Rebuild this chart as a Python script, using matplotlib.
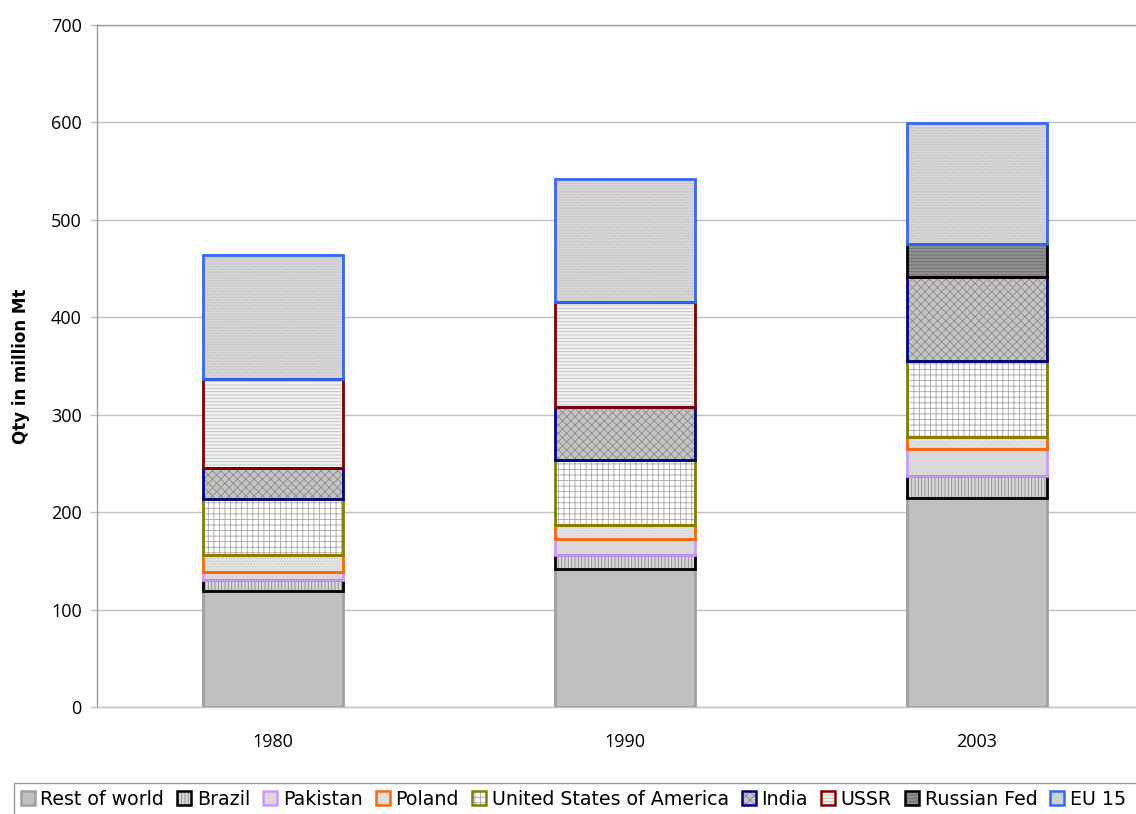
import matplotlib
matplotlib.use("Agg")
import matplotlib.pyplot as plt
import numpy as np
from matplotlib.patches import Rectangle
from matplotlib.legend_handler import HandlerBase

plt.rcParams['hatch.linewidth'] = 0.6

years = ["1980", "1990", "2003"]
series = ["Rest of world", "Brazil", "Pakistan", "Poland",
          "United States of America", "India", "USSR", "Russian Fed", "EU 15"]

rest_of_world = [119, 142, 215]
brazil = [11, 14, 22]
pakistan = [9, 16, 28]
poland = [17, 15, 12]
usa = [58, 67, 78]
india = [31, 54, 86]
ussr = [92, 108, 0]
russian_fed = [0, 0, 34]
eu15 = [127, 126, 124]

values = [rest_of_world, brazil, pakistan, poland, usa, india, ussr, russian_fed, eu15]

# (face colour, hatch, hatch colour, border colour)
styles = [
    ("#C0C0C0", None, "#C0C0C0", "#A0A0A0"),
    ("#D6D6D6", "|||||", "#8C8C8C", "#000000"),
    ("#D9D9D9", None, "#D9D9D9", "#CC99FF"),
    ("#E4E4E4", "......", "#C8C8C8", "#FF6600"),
    ("#FFFFFF", "+++", "#A6A6A6", "#808000"),
    ("#C4C4C4", "xxxx", "#8A8A8A", "#000080"),
    ("#F2F2F2", "-----", "#BEBEBE", "#800000"),
    ("#8E8E8E", "-----", "#6E6E6E", "#000000"),
    ("#D6D6D6", "......", "#BDBDBD", "#3366FF"),
]

fig = plt.figure(figsize=(11.36, 8.14), dpi=100)
ax = fig.add_axes([97 / 1136, 107 / 814, 1056 / 1136, 682 / 814])

x = np.arange(len(years))
width = 0.4
bottom = np.zeros(len(years))
for name, vals, (fc, hatch, hc, ec) in zip(series, values, styles):
    vals = np.array(vals, dtype=float)
    ax.bar(x, vals, width, bottom=bottom, color=fc, hatch=hatch,
           edgecolor=hc, linewidth=0, zorder=2)
    ax.bar(x, vals, width, bottom=bottom, facecolor="none",
           edgecolor=ec, linewidth=2.0, zorder=3, label=name)
    bottom += vals

ax.set_xlim(-0.5, 2.5)
ax.set_ylim(0, 700)
ax.set_yticks(range(0, 701, 100))
ax.set_xticks(x)
ax.set_xticklabels(years)
ax.yaxis.grid(True, color="#C0C0C0", linewidth=1.0, zorder=0)
ax.set_axisbelow(True)

ax.spines["right"].set_visible(False)
ax.spines["top"].set_color("#999999")
ax.spines["left"].set_color("#999999")
ax.spines["bottom"].set_color("#C0C0C0")
for sp in ax.spines.values():
    sp.set_linewidth(1.0)

ax.tick_params(axis="y", length=5, color="#C0C0C0", width=1.0,
               labelsize=13, pad=6)
ax.tick_params(axis="x", length=0, labelsize=13, pad=19)
for lbl in ax.get_xticklabels() + ax.get_yticklabels():
    lbl.set_fontfamily("Open Sans")

ax.set_ylabel("Qty in million Mt", fontsize=12, fontweight="bold",
              labelpad=15)


class PatternHandler(HandlerBase):
    """Legend key drawn as a patterned square with a coloured border."""

    def __init__(self, style):
        super().__init__()
        self.style = style

    def create_artists(self, legend, orig_handle, xdescent, ydescent,
                       width, height, fontsize, trans):
        fc, hatch, hc, ec = self.style
        s = height
        x0 = xdescent + (width - s) / 2
        r1 = Rectangle((x0, -ydescent), s, s, facecolor=fc, hatch=hatch,
                       edgecolor=hc, linewidth=0, transform=trans)
        r2 = Rectangle((x0, -ydescent), s, s, facecolor="none",
                       edgecolor=ec, linewidth=1.8, transform=trans)
        return [r1, r2]


proxies = [Rectangle((0, 0), 1, 1) for _ in series]
hmap = {p: PatternHandler(st) for p, st in zip(proxies, styles)}
leg = fig.legend(proxies, series, handler_map=hmap, ncol=len(series),
                 loc="upper left", bbox_to_anchor=(14 / 1136, 31 / 814),
                 frameon=False, fontsize=13.7, handlelength=0.74,
                 handleheight=0.74, handletextpad=0.3, columnspacing=0.68,
                 borderpad=0.35, borderaxespad=0)

# Legend box running past the right and bottom edges of the figure
fig.patches.append(Rectangle((14 / 1136, -0.05), 1.2, 31 / 814 + 0.05,
                             transform=fig.transFigure, facecolor="none",
                             edgecolor="#999999", linewidth=1.0))

fig.savefig("out.png", dpi=100)
